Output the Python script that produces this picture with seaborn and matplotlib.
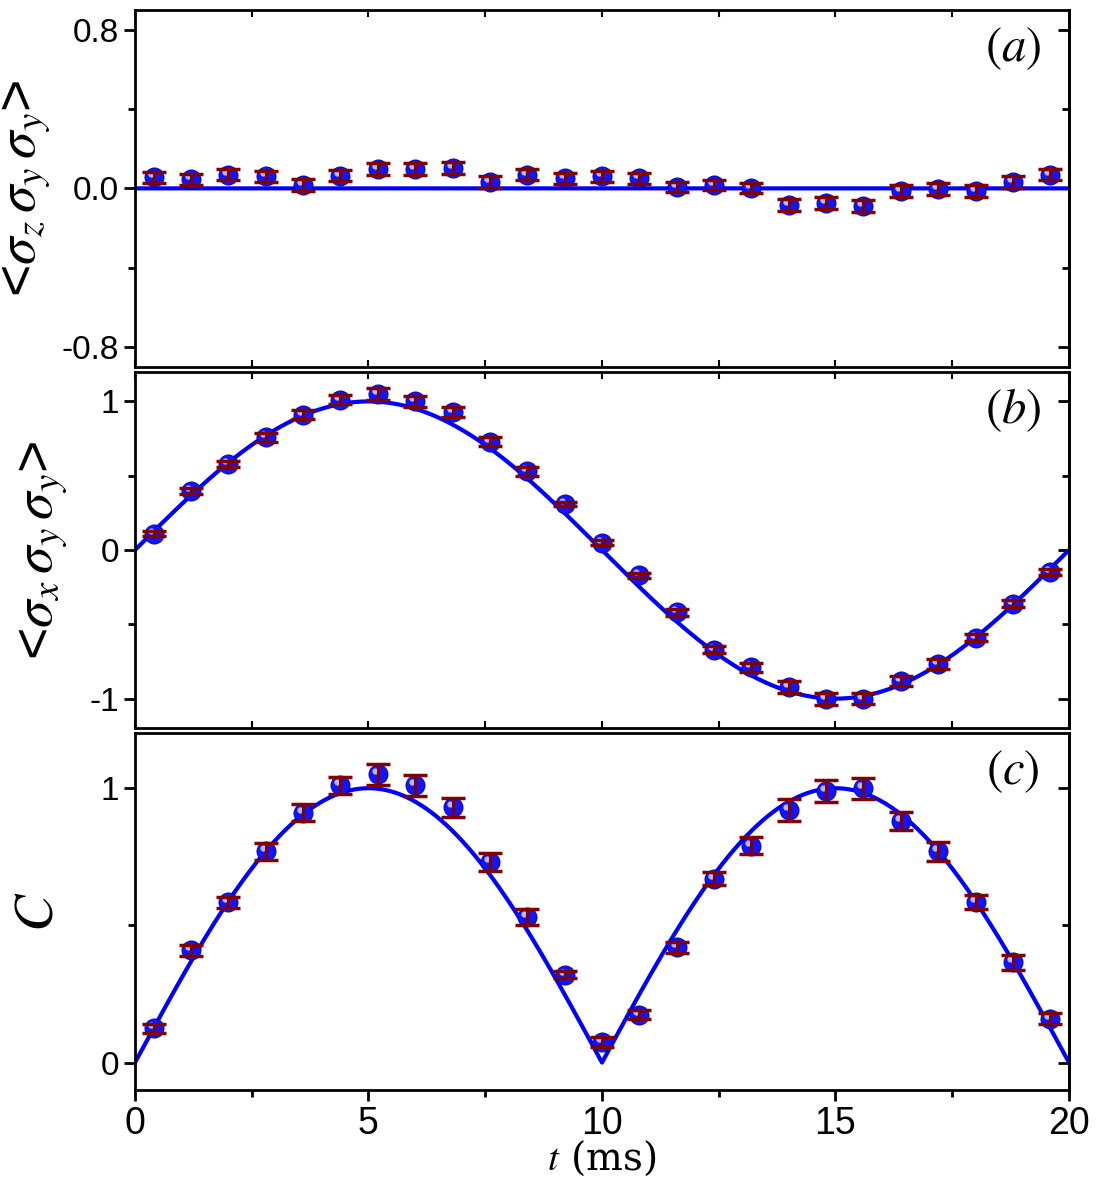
import numpy as np
import pandas as pd
import seaborn as sns
import matplotlib.pyplot as plt
import matplotlib.transforms as mtransforms
from matplotlib.ticker import MultipleLocator, FuncFormatter

# measured times (ms)
t = [0.4, 1.2, 2.0, 2.8, 3.6, 4.4, 5.2, 6.0, 6.8, 7.6, 8.4, 9.2, 10.0,
     10.8, 11.6, 12.4, 13.2, 14.0, 14.8, 15.6, 16.4, 17.2, 18.0, 18.8, 19.6]

# <sz sy sy>
zyy = [0.055, 0.045, 0.07, 0.06, 0.015, 0.065, 0.10, 0.10, 0.105, 0.03, 0.07, 0.05, 0.06,
       0.05, 0.005, 0.015, 0.0, -0.085, -0.075, -0.09, -0.015, -0.005, -0.015, 0.03, 0.07]
zyy_err = [0.03, 0.03, 0.03, 0.03, 0.03, 0.03, 0.03, 0.03, 0.03, 0.03, 0.03, 0.03, 0.03,
           0.03, 0.025, 0.025, 0.025, 0.03, 0.03, 0.03, 0.03, 0.03, 0.03, 0.03, 0.03]

# <sx sy sy>
xyy = [0.11, 0.40, 0.58, 0.76, 0.91, 1.01, 1.05, 1.00, 0.93, 0.73, 0.53, 0.31, 0.05,
       -0.17, -0.42, -0.67, -0.79, -0.92, -1.00, -1.00, -0.88, -0.77, -0.59, -0.36, -0.15]

# concurrence C
conc = [0.125, 0.41, 0.585, 0.77, 0.91, 1.01, 1.05, 1.01, 0.93, 0.73, 0.53, 0.32, 0.075,
        0.175, 0.42, 0.67, 0.79, 0.92, 0.99, 1.00, 0.88, 0.77, 0.585, 0.365, 0.16]
err = [0.016, 0.02, 0.02, 0.03, 0.031, 0.03, 0.04, 0.037, 0.034, 0.033, 0.03, 0.012, 0.018,
       0.018, 0.021, 0.023, 0.031, 0.04, 0.04, 0.039, 0.032, 0.034, 0.024, 0.026, 0.021]

period = 20.0  # ms, theory curve
tt = np.linspace(0, 20, 2001)

sns.set_style("ticks")
plt.rcParams["font.family"] = ["Liberation Sans", "DejaVu Sans"]
plt.rcParams["mathtext.fontset"] = "stix"
for k in ["text.color", "axes.edgecolor", "axes.labelcolor", "xtick.color", "ytick.color"]:
    plt.rcParams[k] = "black"

fig = plt.figure(figsize=(11, 11.97), dpi=100)
gs = fig.add_gridspec(3, 1, left=0.1227, right=0.9718, top=0.9916, bottom=0.0894, hspace=0.014)
axes = [fig.add_subplot(gs[i]) for i in range(3)]

theory = [np.zeros_like(tt), np.sin(2 * np.pi * tt / period), np.abs(np.sin(2 * np.pi * tt / period))]
data = [(zyy, zyy_err), (xyy, err), (conc, err)]
ylims = [(-0.9, 0.9), (-1.2, 1.2), (-0.1, 1.2)]
majors = [0.8, 1.0, 1.0]
minors = [0.4, 0.5, 0.5]
ylabels = [r"<$\sigma_z\,\sigma_y\,\sigma_y$>", r"<$\sigma_x\,\sigma_y\,\sigma_y$>", r"$C$"]
label_x = [-0.088, -0.07, -0.075]
tags = [r"$(a)$", r"$(b)$", r"$(c)$"]

for i, ax in enumerate(axes):
    y, e = data[i]
    df = pd.DataFrame({"t": t, "y": y, "e": e})
    sns.lineplot(x=tt, y=theory[i], color="#0000ff", lw=3, ax=ax, zorder=2)
    sns.scatterplot(data=df, x="t", y="y", color="#1414f5", s=190, edgecolor="#0000b0",
                    linewidth=0.6, ax=ax, zorder=3)
    hl = mtransforms.offset_copy(ax.transData, fig=fig, x=-3, y=3, units="dots")
    ax.plot(df["t"], df["y"], "o", ms=4.5, color="#b8b8ff", mec="none", transform=hl, zorder=4)
    ax.errorbar(df["t"], df["y"], yerr=df["e"], fmt="none", ecolor="#800000",
                elinewidth=2.2, capsize=8.5, capthick=2.5, zorder=5)

    ax.set_xlim(0, 20)
    ax.set_ylim(*ylims[i])
    ax.yaxis.set_major_locator(MultipleLocator(majors[i]))
    ax.yaxis.set_minor_locator(MultipleLocator(minors[i]))
    ax.xaxis.set_major_locator(MultipleLocator(5))
    ax.xaxis.set_minor_locator(MultipleLocator(2.5))
    for s in ax.spines.values():
        s.set_linewidth(2)
        s.set_visible(True)
    ax.tick_params(axis="y", which="both", left=True, right=False, direction="out", width=2)
    ax.tick_params(axis="y", which="major", length=8, labelsize=24)
    ax.tick_params(axis="y", which="minor", length=5)
    sec = ax.secondary_yaxis("right")
    sec.yaxis.set_major_locator(MultipleLocator(majors[i]))
    sec.yaxis.set_minor_locator(MultipleLocator(minors[i]))
    sec.tick_params(which="both", direction="in", width=2, labelright=False)
    sec.tick_params(which="major", length=8)
    sec.tick_params(which="minor", length=5)
    sec.spines["right"].set_linewidth(2)
    ax.tick_params(axis="x", which="both", top=True, bottom=True, direction="in", width=1.5, length=5)
    if i < 2:
        ax.tick_params(axis="x", labelbottom=False)
        ax.set_xlabel("")
    else:
        ax.tick_params(axis="x", which="both", bottom=True, top=True, direction="out", width=2)
        ax.tick_params(axis="x", which="major", length=8, labelsize=27)
        ax.tick_params(axis="x", which="minor", length=5)
        ax.tick_params(axis="x", which="both", top=False)
        ax.set_xlabel(r"$t$ (ms)", fontsize=28, family="serif", labelpad=-2, math_fontfamily="stix")
    if i == 0:
        ax.yaxis.set_major_formatter(FuncFormatter(lambda v, p: f"{v:.1f}"))
    else:
        ax.yaxis.set_major_formatter(FuncFormatter(lambda v, p: f"{v:.0f}"))
    ax.set_ylabel(ylabels[i], fontsize=40)
    ax.yaxis.set_label_coords(label_x[i], 0.5)
    ax.text(0.94, 0.893, tags[i], transform=ax.transAxes, fontsize=35, ha="center", va="center")

fig.savefig("out.png", dpi=100)
